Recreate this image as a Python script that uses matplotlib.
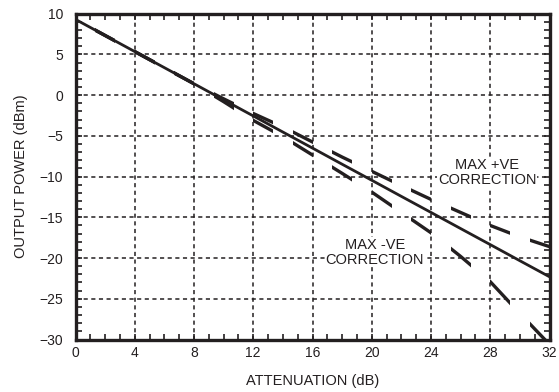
import numpy as np
import matplotlib
matplotlib.use("Agg")
import matplotlib.pyplot as plt
from matplotlib.path import Path
from matplotlib.ticker import MultipleLocator

plt.rcParams["font.family"] = ["Liberation Sans", "DejaVu Sans"]

INK = "#231f20"

# attenuation (dB) and output power (dBm)
atten = [0, 4, 8, 10, 12, 14, 16, 18, 20, 22, 24, 26, 28, 30, 32]
nominal = [9.3, 5.35, 1.4, -0.58, -2.55, -4.53, -6.5, -8.48, -10.45,
           -12.43, -14.4, -16.38, -18.35, -20.33, -22.3]
max_pos = [9.3, 5.35, 1.4, -0.45, -2.25, -3.9, -5.75, -7.6, -9.35,
           -11.1, -12.8, -14.4, -16.0, -17.4, -18.6]
max_neg = [9.3, 5.35, 1.4, -0.8, -3.1, -5.1, -7.35, -9.6, -11.9,
           -14.4, -16.9, -19.8, -22.9, -26.8, -30.6]

xticks = [0, 4, 8, 12, 16, 20, 24, 28, 32]
yticks = [-30, -25, -20, -15, -10, -5, 0, 5, 10]

fig = plt.figure(figsize=(5.59, 3.92), dpi=100)
ax = fig.add_axes([75.5 / 559, 1 - 339.5 / 392,
                   (549.5 - 75.5) / 559, (339.5 - 13.7) / 392])

ax.set_xlim(0, 32)
ax.set_ylim(-30, 10)
ax.set_xticks(xticks)
ax.set_yticks(yticks)
ax.xaxis.set_minor_locator(MultipleLocator(1))
ax.yaxis.set_minor_locator(MultipleLocator(1))
ax.tick_params(which="both", direction="in", top=True, right=True,
               color=INK, labelcolor=INK)
ax.tick_params(which="major", length=4, width=1.2, labelsize=10)
ax.tick_params(axis="x", which="major", pad=5)
ax.tick_params(axis="y", which="major", pad=9)
ax.tick_params(which="minor", length=4, width=1.2)
for s in ax.spines.values():
    s.set_linewidth(2.4)
    s.set_color(INK)
ax.grid(True, which="major", color=INK, lw=1.1, ls=(0, (2.7, 2.3)))
ax.set_axisbelow(True)

ax.plot(atten, nominal, color=INK, lw=2.0, solid_capstyle="butt", zorder=3)

# dashes are laid out along the attenuation axis: 4/3 dB on, 4/3 dB off
verts, codes = [], []
for x0 in np.arange(4 / 3, 32, 8 / 3):
    x1 = x0 + 4 / 3
    verts += [(x0, -0.1), (x1, -0.1), (x1, 1.1), (x0, 1.1), (x0, -0.1)]
    codes += [Path.MOVETO, Path.LINETO, Path.LINETO, Path.LINETO, Path.CLOSEPOLY]
bands = Path(verts, codes)
for yy in (max_pos, max_neg):
    ln, = ax.plot(atten, yy, color=INK, lw=2.4, solid_capstyle="butt", zorder=3)
    ln.set_clip_path(bands, ax.get_xaxis_transform())

ax.text(27.8, -9.5, "MAX +VE\nCORRECTION", ha="center", va="center",
        fontsize=10.5, color=INK, linespacing=1.05, zorder=4,
        bbox=dict(fc="white", ec="none", pad=0.5))
ax.text(20.2, -19.3, "MAX -VE\nCORRECTION", ha="center", va="center",
        fontsize=10.5, color=INK, linespacing=1.05, zorder=4,
        bbox=dict(fc="white", ec="none", pad=0.5))

ax.set_xlabel("ATTENUATION (dB)", fontsize=10.5, color=INK, labelpad=10)
ax.set_ylabel("OUTPUT POWER (dBm)", fontsize=10.5, color=INK, labelpad=8)

fig.savefig("out.png", dpi=100)
